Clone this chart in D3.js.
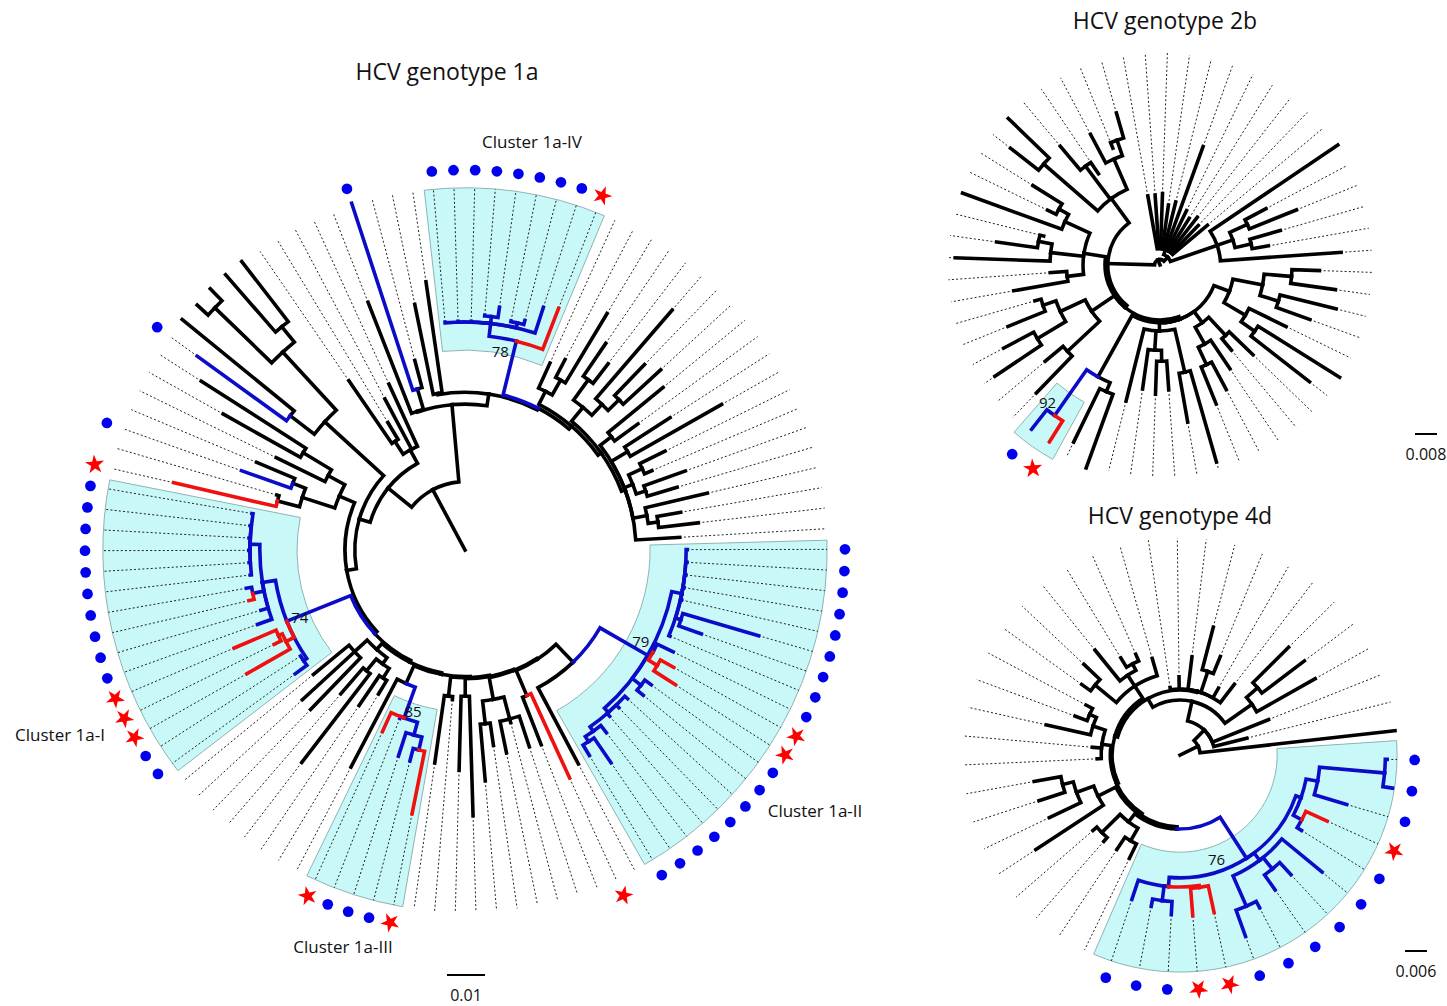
<!DOCTYPE html>
<html><head><meta charset="utf-8">
<script src="https://cdn.jsdelivr.net/npm/d3@7"></script>
<style>
body{margin:0;background:#fff}
text{font-family:'Open Sans',sans-serif;fill:#111}
</style></head>
<body><svg id="c" width="1447" height="1006"></svg>
<script>
// ===================== DATA =====================
// Trees in Newick-like notation. Leaf code: 1st char branch colour (k black, b blue, r red),
// 2nd char tip marker (d dot, s star). Number after ':' = distance from root (x0.001 subs/site).
// Internal labels = bootstrap support.

// ---- HCV genotype 1a ----
const c1a_II  = "((bd:58.5,bd:58.5,bd:58.5,bd:58.5,bd:58.5,(bd:80.5,bd:66):59.7,bd:58.5):58.2,(bd:61,(rs:63,rs:65.8):59):56.3,(bd:60.5,bd:60.5):58.4,(bd:58,bd:58,bd:58,(bd:60.8,(bd:67.9,bd:63.2):60):58.4):57)79:55.5";
const c1a_Y   = "(" + c1a_II + ",k:63.7):41";
const c1a_N49 = "(rs:66,k:55):41.6";
const c1a_Z   = "((k:54.5,k:47,k:54.5):46,(k:52,k:61):46):40";
const c1a_N56 = "(k:70,k:58):38.5";
const c1a_N58 = "(k:39.5,k:56.6):38.7";
const c1a_III = "((((rs:70.8,bd:57.4):54,bd:57):50.5,bd:47.5,rs:52.5)85:47,k:64.5):38.4";
const c1a_G   = "(((k:44.2,k:49.5):40,(k:70.5,k:50):41):37,(k:58.4,k:58.2,k:51.6):39.5):35";
const c1a_I   = "((bd:55.3,bd:51.5):51.5,(rs:66,(rs:56,rs:66):54):52.9,(bd:58,bd:56,(rd:58.4,bd:58.4):57,(bd:56.9,bd:56.9,bd:56.9,bd:56.9,bd:56.9,bd:56.9):56.6):54)74:50.5";
const c1a_UL1 = "(((rs:78.7,k:51.6):51,(bd:62.4,k:59.5):48.6):45,(k:55.3,(k:73,k:82.4):49.7):41):36";
const c1a_UL2 = "((bd:87,k:96):58,((k:95.5,k:96):91.6,(k:96,k:96):76):70.8):50";
const c1a_UL3 = "((k:54,k:39.2):34,k:45,k:48):30";
const c1a_Ta  = "(k:70,(bd:96,k:51.6):44.2):38.6";
const c1a_Tb  = "(k:66,k:71.3):41.8";
const c1a_IV  = "((bd:60.2,bd:60.2,bd:60.2,(bd:62,bd:64.5):61.8,(bd:61.5,bd:62.4):61.3,bd:67.1):60,rs:68.2)78:56.6";
const c1a_C9  = "(k:54,(k:56.6,k:72.6):51.3):46.8";
const c1a_C12 = "((k:65.8,k:61.8):55.3,(k:83.4,(k:67.9,k:70):56.6):52.6):48.7";
const c1a_U   = "((k:67.4,k:56.3):48.7,(k:64.2,k:77.6):50,((k:58.7,k:53.4):51.3,(k:61.6,k:58.2):50):47.4,(k:65.5,(k:57.6,k:61.8):51.3):48.7,k:56.6):45";
// backbone (ladder) distances from root
const ladder1a = [34.5, 34.2, 33.9, 33.6, 33.3, 32.9, 32.4, 31.6, 29, 26];
const clades1a = [c1a_N49, c1a_Z, c1a_N56, c1a_N58, c1a_III, c1a_G, c1a_I, c1a_UL1, c1a_UL2, c1a_UL3];
const topLadder1a = [38.4, 41.5, 42, 43, 44];
const rootDist1a = 18;

// ---- HCV genotype 2b ----
const c2b_SB = "(k:25.5,k:25.5,k:26,k:22,k:23.6,k:45.8,k:22,k:20,k:22,k:20,k:22.5):6";
const c2b_RC = "(k:78,((k:43.6,k:53.5):35,(k:45.5,k:40):34):28,k:66):22";
const c2b_R1 = "(((k:58,k:64.4):48,(k:66,k:58):45):38,(k:51,(k:77,k:69):42):36):27";
const c2b_R2 = "((k:47,k:40.4):35,(k:45.5,(k:51.3,k:54.5):40):33):26";
const c2b_R3 = "((k:74.5,k:58):40,((k:45.5,k:47):35,k:45.5):31,k:51):24";
const c2b_R4 = "((k:78.5,k:71.6):50,(rs:75.8,bd:75.8)92:66.8):46.5";
const c2b_L1 = "((k:64.7,k:54.5):46,((k:72.4,k:64.4):52,(k:59.6,k:47.3):45):40):30";
const c2b_L2 = "((k:54,k:40):34,(k:74.5,(k:60,k:43.6):45):40,(k:76.4,(k:45.5,k:54.5):42):38):28";
const c2b_L3 = "((k:69,k:76.7):56,(k:56.4,k:40):45,(k:53.8,(k:45.8,k:57.5):48):42):30";
const tree2b = "((((" + [c2b_R1,c2b_R2,c2b_R3,c2b_R4].join(",") + "):21," + c2b_L1 + "," + c2b_L2 + "):20," + c2b_L3 + "):19,(" + c2b_SB + "," + c2b_RC + "):4):2";

// ---- HCV genotype 4d ----
const c4d_clu = "((((bd:56.5,bd:58.6):56,bd:47.4):38.2,(rs:44,bd:39):37.6):35,(bd:50.2,(bd:44.5,bd:45):40,(bd:47,bd:52.6):45):36,((rs:44,rs:44):36.5,(bd:43.6,bd:42):40,bd:41.5):36)76:33.5";
const c4d_F1 = "((k:31.4,k:31):27,(k:31.4,k:31.4):30):23";
const c4d_F2 = "(k:47,(k:39.5,(k:40.4,k:40.4):33):30):25";
const c4d_F3 = "(k:22.6,k:24,(k:37.4,(k:30.5,k:29):27):25):21.5";
const c4d_F4 = "((k:33,k:36):30,(k:36.8,(k:31,k:30):28):26,k:27.4):22.5";
const c4d_F5 = "(k:18.6,k:21.3,k:27,(k:36,k:29):24,k:21,k:24.3):18";
const c4d_F6 = "((k:41.7,k:42.5):28,k:42.3):24";
const ladder4d = [20.2, 19.6, 19, 18.5, 17.7, 15];
const clades4d = [c4d_F1, c4d_F2, c4d_F3, c4d_F4, c4d_F5, c4d_F6];

// scale bars (subs/site)
const scaleBars = [0.01, 0.008, 0.006];
// shaded clusters: bootstrap node label, inner radius (x0.001 subs/site)
const clusters1a = [["78",52.6],["79",48.7],["85",42.6],["74",44.2]];
const clusters2b = [["92",57]];
const clusters4d = [["76",26.5]];

// ---- assemble ladder topologies ----
function ladder(first, clades, dists){
  let s = first;
  clades.forEach((c, i) => { s = "(" + s + "," + c + "):" + dists[i]; });
  return s;
}
function rightLadder(parts, dists){
  let s = parts[parts.length-1];
  for (let i = parts.length - 2; i >= 0; i--) s = "(" + parts[i] + "," + s + "):" + dists[i];
  return s;
}
const c1a_back = ladder("(" + c1a_Y + "," + c1a_N49 + "):" + ladder1a[0], clades1a.slice(1), ladder1a.slice(1));
const c1a_top = rightLadder([c1a_Ta, c1a_Tb, c1a_IV, c1a_C9, c1a_C12, c1a_U], topLadder1a);
const tree1a = "(" + c1a_back + "," + c1a_top + "):" + rootDist1a;
const c4d_back = ladder("(" + c4d_clu + "," + c4d_F1 + "):" + ladder4d[0], clades4d.slice(1), ladder4d.slice(1));
const tree4d = "((" + c4d_back + ",k:26,k:18.8):9.5,k:59):5.5";

// ===================== RENDER =====================
const svg = d3.select("#c");
const BLUE = "#0b0bc8", RED = "#f01010", DOT = "#0000ee", STAR = "#ff0000";
const rad = d => d * Math.PI / 180;

function parseNewick(s){
  let i = 0;
  function node(){
    const n = {};
    if (s[i] === "("){
      i++; n.children = [];
      while (true){
        n.children.push(node());
        if (s[i] === ","){ i++; continue; }
        if (s[i] === ")"){ i++; break; }
        throw new Error("bad newick at " + i);
      }
    }
    let lab = "";
    while (i < s.length && !",():".includes(s[i])) lab += s[i++];
    n.label = lab;
    if (s[i] === ":"){ i++; let v = ""; while (i < s.length && !",()".includes(s[i])) v += s[i++]; n.h = +v; }
    return n;
  }
  return node();
}

function drawTree(cfg){
  const root = parseNewick(cfg.newick);
  const leaves = [], internals = [];
  (function walk(n){
    if (!n.children){
      n.index = leaves.length; leaves.push(n);
      n.angle = cfg.angle(n.index);
      n.col = n.label[0]; n.mark = n.label[1] || "";
    } else {
      n.children.forEach(walk);
      internals.push(n);
      n.angle = (n.children[0].angle + n.children[n.children.length-1].angle) / 2;
      const cs = n.children.map(c => c.col);
      n.col = cs.every(c => c === "r") ? "r" : cs.every(c => c === "r" || c === "b") ? "b" : "k";
      n.leafList = [].concat(...n.children.map(c => c.leafList || [c]));
    }
  })(root);
  const {cx, cy, r} = cfg;
  const P = (ang, rr) => [cx + rr*Math.sin(rad(ang)), cy - rr*Math.cos(rad(ang))];
  const g = svg.append("g");

  // shading
  const arcGen = d3.arc();
  cfg.clusters.forEach(([lab, rin]) => {
    const n = internals.find(d => d.label === lab);
    const a0 = n.leafList[0].angle - cfg.pad, a1 = n.leafList[n.leafList.length-1].angle + cfg.pad;
    g.append("path").attr("transform", `translate(${cx},${cy})`)
      .attr("d", arcGen({innerRadius: r(rin), outerRadius: r(cfg.shadeOut), startAngle: rad(a0), endAngle: rad(a1)}))
      .attr("fill", "#c8f8f8").attr("stroke", "#8fb3b3").attr("stroke-width", 1);
  });

  // dotted extensions
  leaves.forEach(l => {
    if (r(l.h) < r(cfg.tipOut) - 2){
      const [x1,y1] = P(l.angle, r(l.h)), [x2,y2] = P(l.angle, r(cfg.tipOut));
      g.append("line").attr("x1",x1).attr("y1",y1).attr("x2",x2).attr("y2",y2)
        .attr("stroke","#222").attr("stroke-width",1).attr("stroke-dasharray","2,2.2");
    }
  });

  // branches
  const links = [];
  internals.forEach(p => p.children.forEach(c => links.push({p, c})));
  const colOf = {k:"#000", b:BLUE, r:RED};
  const order = {k:0, b:1, r:2};
  links.sort((a,b) => order[a.c.col] - order[b.c.col]);
  {
    const [x0,y0] = P(root.angle, 0), [x1,y1] = P(root.angle, r(root.h));
    g.append("line").attr("x1",x0).attr("y1",y0).attr("x2",x1).attr("y2",y1)
      .attr("stroke","#000").attr("stroke-width",cfg.sw).attr("stroke-linecap","square");
  }
  links.forEach(({p,c}) => {
    const pr = r(p.h), cr = r(c.h);
    const path = d3.path();
    const [sx,sy] = P(p.angle, pr);
    path.moveTo(sx, sy);
    if (Math.abs(c.angle - p.angle) > 1e-6)
      path.arc(cx, cy, pr, rad(p.angle) - Math.PI/2, rad(c.angle) - Math.PI/2, c.angle < p.angle);
    const [ex,ey] = P(c.angle, cr);
    path.lineTo(ex, ey);
    g.append("path").attr("d", path.toString()).attr("fill","none")
      .attr("stroke", colOf[c.col]).attr("stroke-width", cfg.sw)
      .attr("stroke-linecap","square").attr("stroke-linejoin","miter");
  });

  // markers
  const dot = d3.symbol().type(d3.symbolCircle).size(cfg.dotSize);
  const star = d3.symbol().type(d3.symbolStar).size(cfg.starSize);
  leaves.filter(l => l.mark).forEach(l => {
    const [x,y] = P(l.angle, r(cfg.markR));
    g.append("path").attr("transform", `translate(${x},${y})` + (l.mark === "s" ? ` rotate(${l.angle})` : ""))
      .attr("d", l.mark === "d" ? dot() : star())
      .attr("fill", l.mark === "d" ? DOT : STAR);
  });

  // bootstrap labels
  cfg.boot.forEach(([lab, dx, dy]) => {
    const n = internals.find(d => d.label === lab);
    const [x,y] = P(n.angle, r(n.h));
    g.append("text").attr("x", x + dx).attr("y", y + dy).attr("text-anchor","middle")
      .attr("dominant-baseline","central").attr("font-size", 15).text(lab);
  });

  // scale bar
  const sb = cfg.scaleBar;
  g.append("line").attr("x1", sb.x).attr("x2", sb.x + r(sb.value*1000)).attr("y1", sb.y).attr("y2", sb.y)
    .attr("stroke","#000").attr("stroke-width",2);
  g.append("text").attr("x", sb.x + r(sb.value*1000)/2).attr("y", sb.y + 26).attr("text-anchor","middle")
    .attr("font-size", 16).text(String(sb.value));
  return {root, leaves, internals};
}

drawTree({
  newick: tree1a, cx: 465, cy: 550,
  r: d3.scaleLinear().domain([0, 1]).range([0, 3.8]),
  angle: d3.scaleLinear().domain([0, 1]).range([89.9, 89.9 + 360/110]),
  clusters: clusters1a, pad: 1.45, shadeOut: 95.3, tipOut: 95.3, markR: 100,
  sw: 3.6, dotSize: 90, starSize: 115,
  boot: [["78",-16,10],["74",13,-4],["85",9,-7],["79",-7,-14]],
  scaleBar: {value: scaleBars[0], x: 447, y: 975}
});
drawTree({
  newick: tree2b, cx: 1160, cy: 265,
  r: d3.scaleLinear().domain([0, 1]).range([0, 2.75]),
  angle: d3.scaleLinear().domain([0, 1]).range([92, 98]),
  clusters: clusters2b, pad: 3.1, shadeOut: 80.7, tipOut: 77.1, markR: 87.3,
  sw: 3.6, dotSize: 90, starSize: 115,
  boot: [["92",-7,-13]],
  scaleBar: {value: scaleBars[1], x: 1415, y: 434}
});
drawTree({
  newick: tree4d, cx: 1180, cy: 755,
  r: d3.scaleLinear().domain([0, 1]).range([0, 3.667]),
  angle: d3.scaleLinear().domain([0, 1]).range([91.2, 91.2 + 360/47]),
  clusters: clusters4d, pad: 5, shadeOut: 59.2, tipOut: 59.2, markR: 64,
  sw: 3.6, dotSize: 90, starSize: 115,
  boot: [["76",-30,1]],
  scaleBar: {value: scaleBars[2], x: 1405, y: 951}
});

// titles and cluster labels
const titles = [["HCV genotype 1a",447,80],["HCV genotype 2b",1165,29],["HCV genotype 4d",1180,524]];
titles.forEach(([t,x,y]) => svg.append("text").attr("x",x).attr("y",y).attr("text-anchor","middle").attr("font-size",23).text(t));
const clusterLabels = [["Cluster 1a-IV",532,148],["Cluster 1a-I",60,741],["Cluster 1a-III",343,953],["Cluster 1a-II",815,817]];
clusterLabels.forEach(([t,x,y]) => svg.append("text").attr("x",x).attr("y",y).attr("text-anchor","middle").attr("font-size",17).text(t));
</script></body></html>
